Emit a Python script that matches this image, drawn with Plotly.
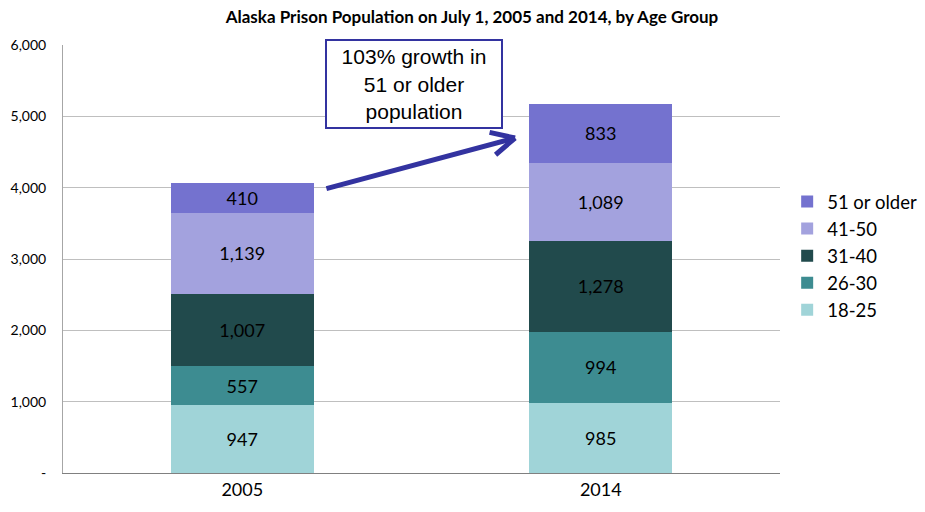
import plotly.graph_objects as go

years = ["2005", "2014"]
groups = ["18-25", "26-30", "31-40", "41-50", "51 or older"]
values = {
    "18-25": [947, 985],
    "26-30": [557, 994],
    "31-40": [1007, 1278],
    "41-50": [1139, 1089],
    "51 or older": [410, 833],
}
colors = {
    "18-25": "#A0D4D8",
    "26-30": "#3D8C91",
    "31-40": "#214A4C",
    "41-50": "#A3A2DE",
    "51 or older": "#7472CF",
}
tick_vals = [0, 1000, 2000, 3000, 4000, 5000, 6000]
tick_text = ["-", "1,000", "2,000", "3,000", "4,000", "5,000", "6,000"]

FONT = "Lato, Carlito, Calibri, sans-serif"
ARROW = "#3333A0"

fig = go.Figure()
for g in groups:
    fig.add_trace(go.Bar(
        x=years, y=values[g], name=g,
        marker=dict(color=colors[g], line=dict(width=0)),
        text=[f"{v:,}" for v in values[g]],
        textposition="inside", insidetextanchor="middle",
        textfont=dict(family=FONT, size=18, color="black"),
        width=0.4,
    ))

fig.update_layout(
    barmode="stack",
    width=925, height=512,
    margin=dict(l=63, r=145, t=45, b=39, autoexpand=False),
    paper_bgcolor="white", plot_bgcolor="white",
    title=dict(text="<b>Alaska Prison Population on July 1, 2005 and 2014, by Age Group</b>",
               x=472 / 925, xref="container", xanchor="center", y=0.967, yanchor="middle",
               font=dict(family=FONT, size=17, color="black")),
    legend=dict(traceorder="reversed", x=1.01, xanchor="left", y=0.507, yanchor="middle",
                font=dict(family=FONT, size=18.5, color="black"), itemwidth=30,
                tracegroupgap=0),
    uniformtext=dict(mode=False),
    showlegend=True,
)
fig.update_xaxes(showline=True, linecolor="#808080", linewidth=1, automargin=False,
                 tickfont=dict(family=FONT, size=18, color="black"),
                 ticks="", range=[-0.5, 1.5])
fig.update_yaxes(range=[0, 6000], tickvals=tick_vals, ticktext=tick_text, automargin=False,
                 showgrid=True, gridcolor="#BFBFBF", gridwidth=1,
                 showline=True, linecolor="#A6A6A6", linewidth=1,
                 ticks="outside", ticklen=13, tickcolor="rgba(0,0,0,0)",
                 tickfont=dict(family=FONT, size=14, color="black"),
                 zeroline=False)

# arrow shaft
fig.add_annotation(x=0.761, y=4696, xref="x", yref="y",
                   ax=0.2306, ay=3981, axref="x", ayref="y",
                   showarrow=True, arrowhead=0, arrowwidth=5, arrowcolor=ARROW, text="")
# chevron arms
fig.add_annotation(x=0.761, y=4696, xref="x", yref="y", ax=-27, ay=-6,
                   showarrow=True, arrowhead=0, arrowwidth=5, arrowcolor=ARROW, text="")
fig.add_annotation(x=0.761, y=4696, xref="x", yref="y", ax=-21, ay=18,
                   showarrow=True, arrowhead=0, arrowwidth=5, arrowcolor=ARROW, text="")

fig.add_annotation(
    x=0.478, y=5453, xref="x", yref="y",
    text="103% growth in<br>51 or older<br>population",
    showarrow=False,
    font=dict(family="Liberation Sans, Arial, sans-serif", size=21, color="black"),
    bordercolor=ARROW, borderwidth=2, borderpad=0, bgcolor="white",
    width=174, height=86, align="center", valign="middle",
)

fig.write_html("out.html", config={"displayModeBar": False},
               post_script="document.body.style.margin='0';")
